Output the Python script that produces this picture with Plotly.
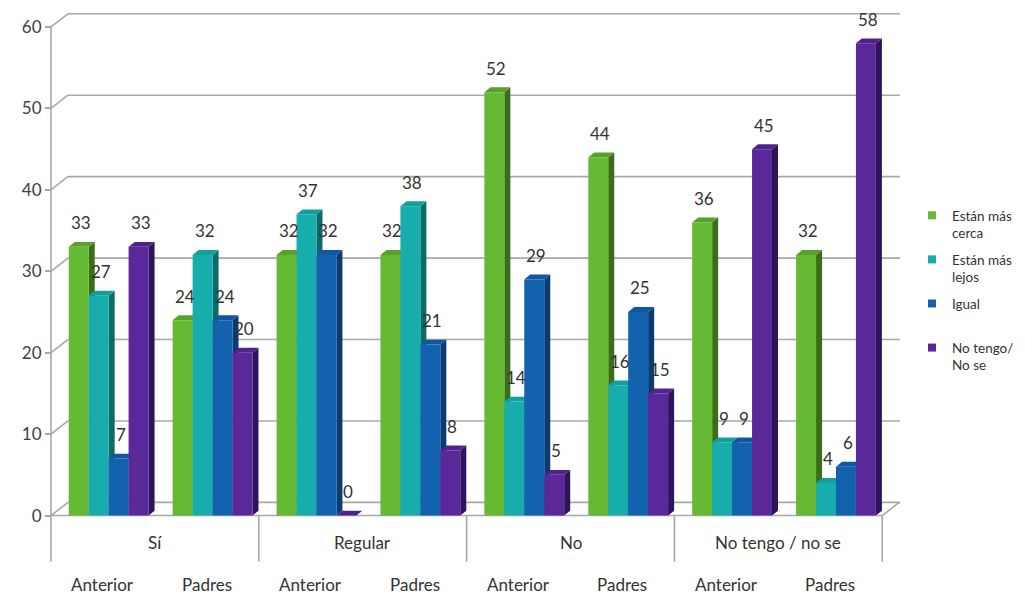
import plotly.graph_objects as go

# ---- data -------------------------------------------------------------
groups = ["Sí", "Regular", "No", "No tengo / no se"]
periods = ["Anterior", "Padres"]

series_names = ["Están más<br>cerca", "Están más<br>lejos", "Igual<br> ", "No tengo/<br>No se"]
mas_cerca = [33, 24, 32, 32, 52, 44, 36, 32]
mas_lejos = [27, 32, 37, 38, 14, 16, 9, 4]
igual = [7, 24, 32, 21, 29, 25, 9, 6]
no_tengo = [33, 20, 0, 8, 5, 15, 45, 58]

y_ticks = [0, 10, 20, 30, 40, 50, 60]

# ---- styling ----------------------------------------------------------
front_colors = ["#66b933", "#18adad", "#1262ae", "#5a2898"]
side_colors = ["#3b6e1a", "#0b6a6a", "#0a3b72", "#2f1459"]
top_colors = ["#57a02b", "#129f9f", "#0f57a2", "#4f238a"]
grid_color = "#a8a8a8"
text_color = "#333333"
FONT = "Lato, 'Open Sans', sans-serif"

# ---- geometry (axis units) -------------------------------------------
N_CAT = len(groups) * len(periods)
BAR_W = 0.192          # width of one bar
SHIFT = 0.055          # bars sit slightly back in the depth of the floor
BAR_DX, BAR_DY = 0.058, 0.6     # bar depth
WALL_DX, WALL_DY = 0.163, 1.62  # depth of the back wall
X0, X1 = -0.5 - 0.019, 7.671
Y0, Y1 = -0.3, 61.84
PX_PER_Y = 8.15
PX_PER_X = 103.9

plot_w = (X1 - X0) * PX_PER_X
plot_h = (Y1 - Y0) * PX_PER_Y
m_l = 51 - (-0.5 - X0) * PX_PER_X
m_t = 516 - Y1 * PX_PER_Y
m_b = 598 - m_t - plot_h
m_r = 1025 - m_l - plot_w

series = [mas_cerca, mas_lejos, igual, no_tengo]
cats = list(range(N_CAT))

fig = go.Figure()
shapes = []
annotations = []

# back wall, side wall and floor lines
for v in y_ticks:
    shapes.append(dict(type="line", xref="x", yref="y", x0=-0.5 + WALL_DX, y0=v + WALL_DY,
                       x1=X1, y1=v + WALL_DY, line=dict(color=grid_color, width=1.6), layer="below"))
    shapes.append(dict(type="line", xref="x", yref="y", x0=-0.5, y0=v, x1=-0.5 + WALL_DX,
                       y1=v + WALL_DY, line=dict(color=grid_color, width=1.6), layer="below"))
shapes.append(dict(type="line", xref="x", yref="y", x0=-0.5, y0=0, x1=7.5, y1=0,
                   line=dict(color=grid_color, width=1.6), layer="below"))
shapes.append(dict(type="line", xref="x", yref="y", x0=7.5, y0=0, x1=7.5 + WALL_DX, y1=WALL_DY,
                   line=dict(color=grid_color, width=1.6), layer="below"))
shapes.append(dict(type="line", xref="x", yref="y", x0=-0.5, y0=0, x1=-0.5, y1=60,
                   line=dict(color=grid_color, width=1.6), layer="below"))

# depth faces of each bar, drawn beneath the front faces
for k, vals in enumerate(series):
    for i, v in zip(cats, vals):
        xl = i + SHIFT + (k - 1.5) * BAR_W - BAR_W / 2
        xr = xl + BAR_W
        side = (f"M {xr},0 L {xr},{v} L {xr + BAR_DX},{v + BAR_DY} "
                f"L {xr + BAR_DX},{BAR_DY} Z")
        top = (f"M {xl},{v} L {xr},{v} L {xr + BAR_DX},{v + BAR_DY} "
               f"L {xl + BAR_DX},{v + BAR_DY} Z")
        shapes.append(dict(type="path", xref="x", yref="y", path=side,
                           fillcolor=side_colors[k], line=dict(width=0), layer="below"))
        shapes.append(dict(type="path", xref="x", yref="y", path=top,
                           fillcolor=top_colors[k], line=dict(width=0), layer="below"))

# front faces
for k, vals in enumerate(series):
    xs = [i + SHIFT + (k - 1.5) * BAR_W for i in cats]
    fig.add_trace(go.Bar(x=xs, y=vals, width=BAR_W, marker=dict(color=front_colors[k], line=dict(width=0)),
                         showlegend=False, hoverinfo="skip"))
    for x, v in zip(xs, vals):
        annotations.append(dict(x=x, y=v, xref="x", yref="y", text=str(v), showarrow=False,
                                xshift=2, yshift=24, font=dict(size=17, color=text_color, family=FONT)))

# legend entries
for k, name in enumerate(series_names):
    fig.add_trace(go.Scatter(x=[None], y=[None], mode="markers", name=name,
                             legendgroup=f"g{k}",
                             marker=dict(symbol="square", size=8, color=front_colors[k])))

# two-level category axis below the floor
p_zero = (0 - Y0) / (Y1 - Y0)
p_box = p_zero - 46 / plot_h
for b in [-0.5, 1.5, 3.5, 5.5, 7.5]:
    shapes.append(dict(type="line", xref="x", yref="paper", x0=b, x1=b, y0=p_zero, y1=p_box,
                       line=dict(color=grid_color, width=1.6)))
for g, name in enumerate(groups):
    annotations.append(dict(x=2 * g + 0.5, y=p_zero, xref="x", yref="paper", text=name,
                            showarrow=False, yanchor="middle", yshift=-27,
                            font=dict(size=17, color=text_color, family=FONT)))
    for p, per in enumerate(periods):
        annotations.append(dict(x=2 * g + p, y=p_zero, xref="x", yref="paper", text=per,
                                showarrow=False, yanchor="middle", yshift=-69,
                                font=dict(size=17, color=text_color, family=FONT)))

fig.update_layout(
    width=1025, height=598,
    margin=dict(l=m_l, r=m_r, t=m_t, b=m_b, pad=0),
    barmode="overlay",
    plot_bgcolor="white", paper_bgcolor="white",
    font=dict(family=FONT, color=text_color),
    xaxis=dict(range=[X0, X1], visible=False),
    yaxis=dict(range=[Y0, Y1], tickvals=y_ticks, ticks="outside", ticklen=6,
               tickcolor=grid_color, tickwidth=1.6, showgrid=False, zeroline=False,
               showline=False, anchor="free", position=(-0.5 - X0) / (X1 - X0),
               tickfont=dict(size=17, color="#404040", family=FONT)),
    legend=dict(xref="container", yref="container", x=912 / 1025, y=1 - 200 / 598,
                xanchor="left", yanchor="top", valign="top",
                tracegroupgap=6, font=dict(size=13.5, color=text_color, family=FONT),
                bgcolor="rgba(0,0,0,0)"),
    shapes=shapes,
    annotations=annotations,
)

fig.write_html("out.html")
